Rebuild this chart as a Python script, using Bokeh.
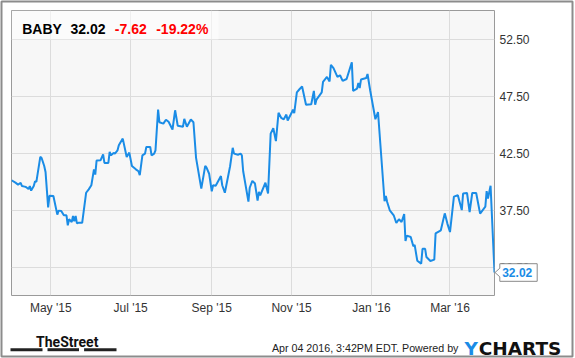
from datetime import datetime
from bokeh.plotting import figure
from bokeh.models import (FixedTicker, NumeralTickFormatter, Label, BoxAnnotation,
                          ColumnDataSource, Range1d, DatetimeTickFormatter)
from bokeh.core.properties import value
from bokeh.embed import file_html
from bokeh.resources import INLINE

# ---------------- data ----------------
dates = [
    "2015-04-01", "2015-04-04", "2015-04-06", "2015-04-08", "2015-04-09", "2015-04-11",
    "2015-04-12", "2015-04-14", "2015-04-15", "2015-04-16", "2015-04-18", "2015-04-19",
    "2015-04-20", "2015-04-23", "2015-04-24", "2015-04-26", "2015-04-27", "2015-04-29",
    "2015-04-30", "2015-05-03", "2015-05-06", "2015-05-07", "2015-05-09", "2015-05-11",
    "2015-05-13", "2015-05-14", "2015-05-15", "2015-05-17", "2015-05-18", "2015-05-19",
    "2015-05-20", "2015-05-21", "2015-05-22", "2015-05-25", "2015-05-28", "2015-05-30",
    "2015-06-01", "2015-06-03", "2015-06-04", "2015-06-05", "2015-06-08", "2015-06-10",
    "2015-06-11", "2015-06-14", "2015-06-15", "2015-06-16", "2015-06-18", "2015-06-19",
    "2015-06-21", "2015-06-22", "2015-06-25", "2015-06-28", "2015-06-30", "2015-07-02",
    "2015-07-05", "2015-07-07", "2015-07-08", "2015-07-10", "2015-07-12", "2015-07-13",
    "2015-07-16", "2015-07-17", "2015-07-19", "2015-07-20", "2015-07-22", "2015-07-23",
    "2015-07-26", "2015-07-28", "2015-07-30", "2015-08-02", "2015-08-04", "2015-08-06",
    "2015-08-10", "2015-08-11", "2015-08-13", "2015-08-16", "2015-08-18", "2015-08-20",
    "2015-08-24", "2015-08-27", "2015-08-28", "2015-08-30", "2015-09-01", "2015-09-02",
    "2015-09-04", "2015-09-08", "2015-09-09", "2015-09-11", "2015-09-15", "2015-09-17",
    "2015-09-18", "2015-09-21", "2015-09-23", "2015-09-24", "2015-09-25", "2015-09-29",
    "2015-09-30", "2015-10-02", "2015-10-04", "2015-10-06", "2015-10-07", "2015-10-08",
    "2015-10-12", "2015-10-14", "2015-10-16", "2015-10-18", "2015-10-20", "2015-10-22",
    "2015-10-24", "2015-10-26", "2015-10-28", "2015-10-29", "2015-11-01", "2015-11-02",
    "2015-11-03", "2015-11-05", "2015-11-07", "2015-11-09", "2015-11-12", "2015-11-16",
    "2015-11-18", "2015-11-19", "2015-11-20", "2015-11-24", "2015-11-25", "2015-11-28",
    "2015-11-30", "2015-12-01", "2015-12-03", "2015-12-06", "2015-12-08", "2015-12-10",
    "2015-12-13", "2015-12-17", "2015-12-18", "2015-12-21", "2015-12-22", "2015-12-23",
    "2015-12-24", "2015-12-28", "2015-12-29", "2015-12-31", "2016-01-04", "2016-01-06",
    "2016-01-11", "2016-01-12", "2016-01-13", "2016-01-15", "2016-01-18", "2016-01-20",
    "2016-01-22", "2016-01-24", "2016-01-26", "2016-01-27", "2016-01-28", "2016-01-31",
    "2016-02-02", "2016-02-03", "2016-02-05", "2016-02-08", "2016-02-09", "2016-02-11",
    "2016-02-12", "2016-02-15", "2016-02-18", "2016-02-19", "2016-02-23", "2016-02-26",
    "2016-02-28", "2016-03-01", "2016-03-04", "2016-03-07", "2016-03-10", "2016-03-11",
    "2016-03-14", "2016-03-16", "2016-03-18", "2016-03-21", "2016-03-24", "2016-03-28",
    "2016-03-29", "2016-03-30", "2016-04-01", "2016-04-04",
]
prices = [
    40.13, 39.92, 39.75, 39.89, 39.62, 39.57,
    39.54, 39.36, 39.62, 39.22, 39.62, 40.04,
    39.98, 42.19, 42.09, 41.38, 40.86, 37.75,
    38.76, 38.74, 37.11, 37.46, 37.43, 37.05,
    37.05, 36.17, 36.70, 36.46, 36.99, 36.52,
    36.99, 36.34, 36.39, 36.39, 39.03, 39.33,
    39.69, 41.09, 40.63, 41.86, 41.88, 42.41,
    41.65, 41.65, 42.62, 42.32, 42.53, 42.47,
    42.76, 43.20, 43.79, 42.17, 42.56, 41.38,
    41.09, 40.92, 40.57, 42.32, 42.47, 43.05,
    43.05, 42.32, 42.47, 42.76, 46.35, 45.23,
    45.11, 45.45, 45.27, 44.59, 46.28, 44.92,
    44.83, 45.52, 44.83, 45.47, 45.23, 42.10,
    39.40, 41.40, 41.24, 40.70, 39.16, 39.69,
    39.64, 40.50, 39.69, 39.03, 41.36, 42.98,
    42.47, 42.37, 42.47, 42.32, 40.92, 38.25,
    39.47, 40.08, 39.84, 38.34, 39.10, 38.81,
    39.91, 38.96, 44.23, 44.70, 43.57, 46.06,
    45.62, 45.49, 45.90, 45.38, 46.06, 46.33,
    46.02, 47.86, 48.13, 48.37, 46.77, 46.81,
    47.98, 46.77, 47.22, 47.85, 48.77, 49.21,
    48.81, 50.28, 49.99, 49.21, 49.36, 48.86,
    49.03, 50.49, 47.98, 48.19, 48.68, 48.23,
    48.98, 49.11, 49.47, 48.04, 45.49, 46.13,
    38.28, 38.76, 38.22, 37.49, 37.05, 36.37,
    36.70, 36.46, 37.16, 34.79, 35.26, 35.14,
    34.32, 34.45, 33.06, 32.80, 34.10, 34.10,
    33.38, 33.03, 33.15, 35.46, 35.73, 37.22,
    36.32, 35.58, 38.69, 38.81, 37.51, 38.96,
    39.01, 37.34, 39.01, 39.01, 37.20, 37.81,
    39.18, 38.52, 39.64, 32.02,
]
symbol = "BABY"
last_price = "32.02"
change = "-7.62"
change_pct = "-19.22%"
y_ticks = [32.5, 37.5, 42.5, 47.5, 52.5]
x_tick_dates = ["2015-05-01", "2015-07-01", "2015-09-01", "2015-11-01", "2016-01-01", "2016-03-01"]
x_tick_labels = ["May '15", "Jul '15", "Sep '15", "Nov '15", "Jan '16", "Mar '16"]
footer_text = "Apr 04 2016, 3:42PM EDT. Powered by"

# ---------------- helpers ----------------
EPOCH = datetime(1970, 1, 1)


def to_dt(s):
    return datetime.strptime(s, "%Y-%m-%d")


def to_ms(s):
    return (to_dt(s) - EPOCH).total_seconds() * 1000.0


BLUE = "#1a8ce6"
RED = "#ff0000"
FONT = "Liberation Sans"

W, H = 575, 358
FL, FR, FT, FB = 11, 494, 10, 295      # frame edges on the canvas
Y0, Y1 = 30.0, 55.05                    # price range

src = ColumnDataSource(dict(date=[to_dt(d) for d in dates], price=prices))

p = figure(width=W, height=H, x_axis_type="datetime", y_axis_location="right",
           x_range=Range1d(to_ms(dates[0]), to_ms(dates[-1])),
           y_range=Range1d(Y0, Y1),
           output_backend="svg", toolbar_location=None,
           min_border_left=FL, min_border_right=W - FR,
           min_border_top=FT, min_border_bottom=H - FB)

# a pixel-space range pair for decorations that sit outside the frame
p.extra_x_ranges = {"px": Range1d(FL, FR)}
p.extra_y_ranges = {"px": Range1d(FB, FT)}

p.background_fill_color = "#f7f7f7"
p.border_fill_color = "white"
p.outline_line_color = "#9a9a9a"
p.outline_line_width = 1

p.xgrid.grid_line_color = "#dcdcdc"
p.ygrid.grid_line_color = "#dcdcdc"

# y axis (right)
yax = p.yaxis[0]
yax.ticker = FixedTicker(ticks=y_ticks)
yax.formatter = NumeralTickFormatter(format="0.00")
yax.axis_line_color = None
yax.major_tick_line_color = None
yax.minor_tick_line_color = None
yax.major_tick_out = 0
yax.major_tick_in = 0
yax.major_label_standoff = 5
yax.major_label_text_font = FONT
yax.major_label_text_font_size = "12px"
yax.major_label_text_color = "#333333"

# x axis
xticks = [to_ms(d) for d in x_tick_dates]
xax = p.xaxis[0]
xax.ticker = FixedTicker(ticks=xticks)
xax.formatter = DatetimeTickFormatter(months="%b '%y", days="%b '%y", years="%b '%y")
xax.major_label_overrides = {t: lab for t, lab in zip(xticks, x_tick_labels)}
xax.axis_line_color = None
xax.major_tick_line_color = None
xax.minor_tick_line_color = None
xax.major_tick_out = 0
xax.major_tick_in = 0
xax.major_label_standoff = 5
xax.major_label_text_font = FONT
xax.major_label_text_font_size = "12px"
xax.major_label_text_color = "#333333"

# price line
p.line(x="date", y="price", source=src, line_color=BLUE, line_width=2)

# header box and quote
p.add_layout(BoxAnnotation(left=0, right=207, top=285, bottom=256,
                           left_units="screen", right_units="screen",
                           top_units="screen", bottom_units="screen",
                           fill_color="white", fill_alpha=0.55, line_color=None))
hdr_y = 266.7
for txt, xx, col in [(symbol, 10.7, "black"), (last_price, 59.0, "black"),
                     (change, 103.3, RED), (change_pct, 144.7, RED)]:
    p.add_layout(Label(x=xx, y=hdr_y, x_units="screen", y_units="screen", text=txt,
                       text_font=FONT, text_font_size="14px", text_font_style="bold",
                       text_color=col, text_baseline="alphabetic", text_align="left"))

PX = dict(x_range_name="px", y_range_name="px", level="overlay")

# last value callout (box with a pointer to the last point)
cy = FT + (Y1 - prices[-1]) / (Y1 - Y0) * (FB - FT)
bl, br, bt, bb = 499.3, 536.7, cy - 8.8, cy + 8.8
p.patch(x=[bl, br, br, bl, bl, FR + 0.5, bl], y=[bt, bt, bb, bb, cy + 4.3, cy, cy - 4.3],
        fill_color="white", line_color="#8a8a8a", line_width=1, **PX)
p.text(x=[501.7], y=[cy], text=[last_price], text_font=value(FONT), text_font_size="12px",
       text_font_style="bold", text_color=BLUE, text_baseline="middle", text_align="left", **PX)

# outer frame
p.quad(left=[1], right=[572], top=[1], bottom=[356], fill_color=None,
       line_color="#8c8c8c", line_width=2, **PX)

# footer: TheStreet logo
p.text(x=[35.6], y=[341.7], text=["TheStreet"], text_font=value("Roboto"),
       text_font_size="14px", text_font_style="bold", text_color="#111111",
       text_baseline="alphabetic", text_align="left", **PX)
p.quad(left=[10, 47, 83.6], right=[42, 78.5, 116], top=[347.7] * 3, bottom=[350.7] * 3,
       fill_color="#222222", line_color=None, **PX)

# footer: timestamp and YCharts logo
p.text(x=[271.4], y=[347.7], text=[footer_text], text_font=value(FONT),
       text_font_size="10.7px", text_color="#222222",
       text_baseline="alphabetic", text_align="left", **PX)
p.text(x=[463.9], y=[348.3], text=["Y"], text_font=value("DejaVu Sans"),
       text_font_size="18.5px", text_font_style="bold", text_color=BLUE,
       text_baseline="alphabetic", text_align="left", **PX)
p.text(x=[478.2], y=[348.3], text=["CHARTS"], text_font=value("DejaVu Sans"),
       text_font_size="18.5px", text_font_style="bold", text_color="#111111",
       text_baseline="alphabetic", text_align="left", **PX)

open("out.html", "w").write(file_html(p, INLINE))
